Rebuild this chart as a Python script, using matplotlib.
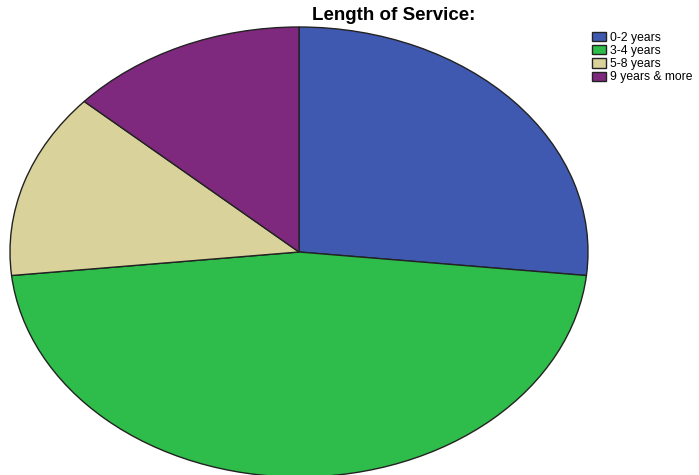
import matplotlib
matplotlib.use("Agg")
import matplotlib.pyplot as plt

labels = ["0-2 years", "3-4 years", "5-8 years", "9 years & more"]
counts = [8, 14, 4, 4]
colors = ["#3f59b1", "#2ebd4a", "#d9d39b", "#7f297e"]

fig = plt.figure(figsize=(6.99, 4.75), dpi=100)
W, H = 699, 475
# elliptical pie: axes box spans the ellipse
ax = fig.add_axes([10 / W, (H - 477) / H, 578 / W, 450 / H])
wedges, _ = ax.pie(counts, colors=colors, startangle=90, counterclock=False,
                   radius=1, wedgeprops=dict(edgecolor="#222222", linewidth=1.0))
ax.set_aspect("auto")
ax.set_xlim(-1, 1)
ax.set_ylim(-1, 1)
ax.axis("off")

fig.text(394 / W, 1 - 15 / H, "Length of Service:", ha="center", va="center",
         fontsize=13.5, fontweight="bold", family="Liberation Sans")

fig.legend(wedges, labels, loc="upper left", bbox_to_anchor=(587 / W, 1 - 27 / H),
           frameon=False, handlelength=1.2, handleheight=0.8,
           handletextpad=0.3, labelspacing=0.1, borderaxespad=0,
           prop=dict(family="Liberation Sans", size=8.7))

fig.savefig("out.png", dpi=100)
